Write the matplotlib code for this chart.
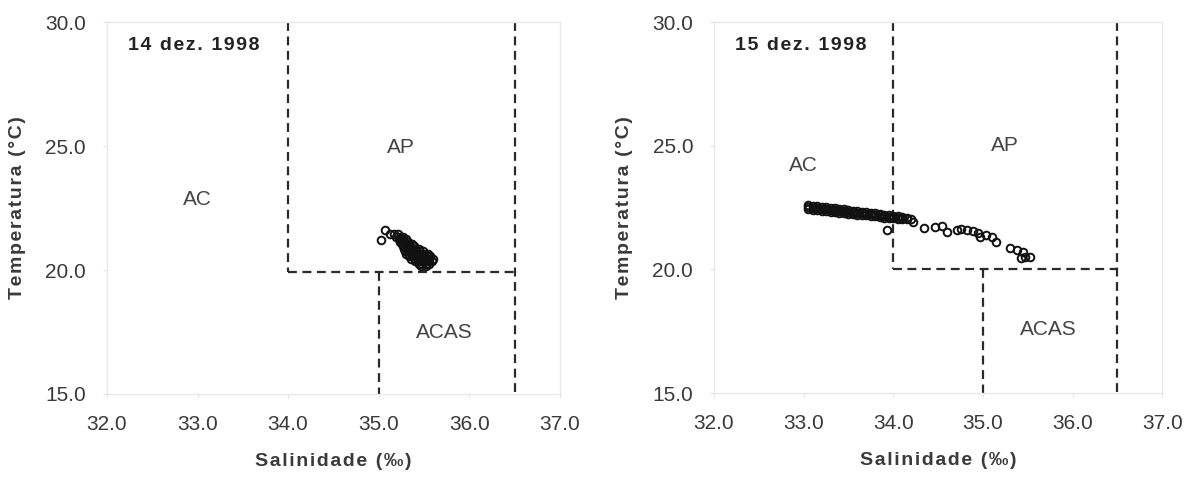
import matplotlib
matplotlib.use("Agg")
import matplotlib.pyplot as plt

plt.rcParams['font.family'] = ['Liberation Sans', 'DejaVu Sans']

# 14 dez. 1998 - salinidade / temperatura
sal_14_open = [35.02, 35.07, 35.12]
temp_14_open = [21.20, 21.62, 21.47]
sal_14 = [35.17, 35.21,
          35.19, 35.23, 35.27,
          35.22, 35.26, 35.30,
          35.24, 35.28, 35.32,
          35.26, 35.30, 35.34, 35.37,
          35.27, 35.31, 35.35, 35.39,
          35.28, 35.32, 35.36, 35.40, 35.44,
          35.29, 35.33, 35.37, 35.41, 35.45, 35.49,
          35.30, 35.34, 35.38, 35.42, 35.46, 35.50, 35.54,
          35.33, 35.37, 35.41, 35.45, 35.49, 35.53, 35.57,
          35.36, 35.40, 35.44, 35.48, 35.52, 35.56, 35.60,
          35.40, 35.44, 35.48, 35.52, 35.56, 35.59,
          35.44, 35.48, 35.52, 35.56,
          35.47, 35.52]
temp_14 = [21.45, 21.45,
           21.35, 21.35, 21.35,
           21.25, 21.25, 21.25,
           21.15, 21.15, 21.15,
           21.05, 21.05, 21.05, 21.05,
           20.95, 20.95, 20.95, 20.95,
           20.85, 20.85, 20.85, 20.85, 20.85,
           20.75, 20.75, 20.75, 20.75, 20.75, 20.75,
           20.65, 20.65, 20.65, 20.65, 20.65, 20.65, 20.65,
           20.55, 20.55, 20.55, 20.55, 20.55, 20.55, 20.55,
           20.45, 20.45, 20.45, 20.45, 20.45, 20.45, 20.45,
           20.35, 20.35, 20.35, 20.35, 20.35, 20.35,
           20.25, 20.25, 20.25, 20.25,
           20.17, 20.17]

# 15 dez. 1998 - faixa densa (AC) e pontos isolados
sal_15_band = [33.05, 33.05, 33.05, 33.10, 33.10, 33.10, 33.15, 33.15, 33.15,
               33.20, 33.20, 33.20, 33.25, 33.25, 33.25, 33.30, 33.30, 33.30,
               33.35, 33.35, 33.35, 33.40, 33.40, 33.40, 33.45, 33.45, 33.45,
               33.50, 33.50, 33.50, 33.55, 33.55, 33.55, 33.60, 33.60, 33.60,
               33.65, 33.65, 33.65, 33.70, 33.70, 33.70, 33.75, 33.75, 33.75,
               33.80, 33.80, 33.80, 33.85, 33.85, 33.85, 33.90, 33.90, 33.90,
               33.95, 33.95, 33.95, 34.00, 34.00, 34.00, 34.05, 34.05, 34.05,
               34.10, 34.10, 34.10, 34.15, 34.15, 34.20]
temp_15_band = [22.60, 22.52, 22.44, 22.58, 22.50, 22.42, 22.56, 22.48, 22.40,
                22.54, 22.46, 22.38, 22.51, 22.43, 22.35, 22.49, 22.41, 22.33,
                22.47, 22.39, 22.31, 22.45, 22.37, 22.29, 22.43, 22.35, 22.27,
                22.41, 22.33, 22.25, 22.38, 22.31, 22.24, 22.35, 22.28, 22.21,
                22.33, 22.26, 22.19, 22.30, 22.24, 22.18, 22.28, 22.22, 22.16,
                22.26, 22.20, 22.14, 22.24, 22.18, 22.12, 22.21, 22.15, 22.09,
                22.19, 22.13, 22.07, 22.16, 22.11, 22.06, 22.14, 22.09, 22.04,
                22.12, 22.07, 22.02, 22.09, 22.04, 22.02]
sal_15_open = [33.93, 34.22, 34.34, 34.47, 34.54, 34.60, 34.71, 34.76, 34.82,
               34.89, 34.95, 34.97, 35.04, 35.10, 35.15, 35.30, 35.38, 35.45,
               35.47, 35.42, 35.53]
temp_15_open = [21.59, 21.93, 21.66, 21.70, 21.75, 21.52, 21.59, 21.62, 21.59,
                21.56, 21.46, 21.29, 21.39, 21.29, 21.12, 20.85, 20.78, 20.71,
                20.51, 20.44, 20.51]

# limites das massas d'agua (S, T)
ap_left = [34.0, 36.5]
acas_left = 35.0
t_lim_14 = 19.9
t_lim_15 = 20.0

xticks = [32.0, 33.0, 34.0, 35.0, 36.0, 37.0]
yticks = [15.0, 20.0, 25.0, 30.0]

fig = plt.figure(figsize=(11.95, 4.83), dpi=100)
ax1 = fig.add_axes([0.0895, 0.1843, 0.379, 0.770])
ax2 = fig.add_axes([0.5975, 0.1863, 0.375, 0.768])

txt = '#3a3a3a'
dash = dict(color='#2a2a2a', lw=1.6, ls=(0, (4, 2.5)))
# circulos vazados; onde se sobrepoem formam a mancha preta
mk = dict(ls='none', marker='o', ms=5.5, mfc='none', mec='#111111', mew=1.4)


def spaced(s):
    return '\u200a'.join(s)


def setup(ax, tlim, title):
    ax.set_xlim(32, 37)
    ax.set_ylim(15, 30)
    ax.set_xticks(xticks)
    ax.set_yticks(yticks)
    ax.set_xticklabels([f"{v:.1f}" for v in xticks])
    ax.set_yticklabels([f"{v:.1f}" for v in yticks])
    ax.tick_params(length=3, color='#e4e4e4', labelsize=15, labelcolor=txt, pad=12)
    for s in ax.spines.values():
        s.set_color('#e8e8e8')
        s.set_linewidth(1)
    ax.set_xlabel(spaced('Salinidade (‰)'), fontsize=14, fontweight='bold',
                  color=txt, labelpad=14)
    ax.set_ylabel(spaced('Temperatura (°C)'), fontsize=14, fontweight='bold',
                  color=txt, labelpad=14)
    # caixas AP / ACAS
    ax.plot([ap_left[0], ap_left[0]], [30, tlim], **dash)
    ax.plot(ap_left, [tlim, tlim], **dash)
    ax.plot([acas_left, acas_left], [tlim, 15], **dash)
    ax.plot([ap_left[1], ap_left[1]], [30, 15], **dash)
    ax.text(32.23, 29.05, spaced(title), fontsize=14, fontweight='bold',
            color='#222222', va='center', ha='left')


setup(ax1, t_lim_14, '14 dez. 1998')
setup(ax2, t_lim_15, '15 dez. 1998')

lab = dict(fontsize=15, color='#444444', ha='center', va='center')
ax1.text(33.0, 22.85, 'AC', **lab)
ax1.text(35.25, 24.95, 'AP', **lab)
ax1.text(35.72, 17.47, 'ACAS', **lab)
ax2.text(33.0, 24.2, 'AC', **lab)
ax2.text(35.25, 25.0, 'AP', **lab)
ax2.text(35.73, 17.57, 'ACAS', **lab)

ax1.plot(sal_14_open, temp_14_open, **mk)
ax1.plot(sal_14, temp_14, **mk)
ax2.plot(sal_15_band, temp_15_band, **mk)
ax2.plot(sal_15_open, temp_15_open, **mk)

fig.savefig('out.png', dpi=100)
